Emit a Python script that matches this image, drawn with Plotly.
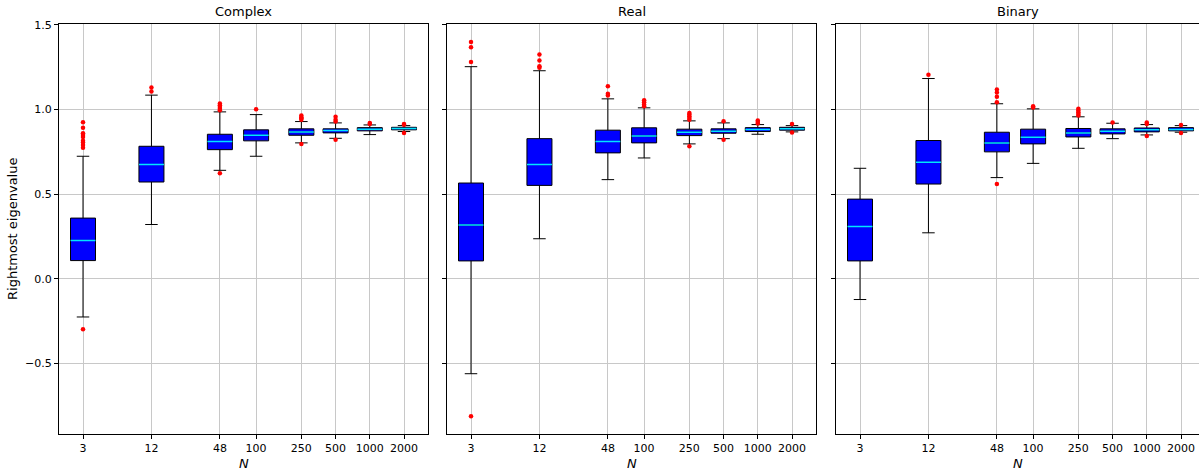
import math
import plotly.graph_objects as go

# Matrix sizes and panel names
sizes = [3, 12, 48, 100, 250, 500, 1000, 2000]
panels = ["Complex", "Real", "Binary"]

# Box statistics per ensemble (one entry per matrix size)
complex_low = [-0.225, 0.321, 0.641, 0.724, 0.803, 0.830, 0.852, 0.870]
complex_q1 = [0.108, 0.572, 0.763, 0.815, 0.848, 0.862, 0.874, 0.880]
complex_med = [0.227, 0.675, 0.811, 0.848, 0.868, 0.876, 0.884, 0.888]
complex_q3 = [0.359, 0.783, 0.854, 0.880, 0.886, 0.886, 0.893, 0.895]
complex_high = [0.724, 1.085, 0.986, 0.970, 0.929, 0.921, 0.909, 0.905]
complex_out = [
    [0.925, 0.893, 0.860, 0.850, 0.838, 0.815, 0.805, 0.790, 0.775, -0.298],
    [1.130, 1.107],
    [1.035, 1.025, 1.015, 1.005, 0.995, 0.623],
    [1.002],
    [0.965, 0.955, 0.948, 0.940, 0.797],
    [0.957, 0.940, 0.930, 0.822],
    [0.921, 0.914],
    [0.915, 0.910, 0.862],
]

real_low = [-0.560, 0.237, 0.586, 0.714, 0.797, 0.828, 0.854, 0.868]
real_q1 = [0.106, 0.552, 0.744, 0.803, 0.846, 0.860, 0.870, 0.878]
real_med = [0.318, 0.675, 0.811, 0.844, 0.866, 0.872, 0.882, 0.886]
real_q3 = [0.566, 0.828, 0.878, 0.892, 0.884, 0.886, 0.893, 0.895]
real_high = [1.253, 1.229, 1.063, 1.010, 0.933, 0.921, 0.911, 0.905]
real_out = [
    [1.398, 1.367, 1.280, -0.811],
    [1.325, 1.290, 1.256, 1.247],
    [1.138, 1.093, 1.083],
    [1.055, 1.043, 1.030, 1.020],
    [0.980, 0.970, 0.960, 0.950, 0.940, 0.783],
    [0.931, 0.822],
    [0.935, 0.926, 0.918],
    [0.915, 0.864],
]

binary_low = [-0.122, 0.272, 0.598, 0.682, 0.771, 0.828, 0.850, 0.866]
binary_q1 = [0.106, 0.560, 0.750, 0.797, 0.838, 0.856, 0.868, 0.874]
binary_med = [0.309, 0.688, 0.803, 0.836, 0.862, 0.872, 0.880, 0.882]
binary_q3 = [0.471, 0.817, 0.866, 0.884, 0.888, 0.886, 0.891, 0.893]
binary_high = [0.653, 1.183, 1.034, 1.004, 0.957, 0.919, 0.911, 0.905]
binary_out = [
    [],
    [1.205],
    [1.118, 1.100, 1.075, 1.043, 0.560],
    [1.020, 1.012],
    [1.004, 0.994, 0.984, 0.974, 0.965],
    [0.923],
    [0.923, 0.915, 0.844],
    [0.909, 0.862],
]

stats = [
    (complex_low, complex_q1, complex_med, complex_q3, complex_high, complex_out),
    (real_low, real_q1, real_med, real_q3, real_high, real_out),
    (binary_low, binary_q1, binary_med, binary_q3, binary_high, binary_out),
]

FONT = "DejaVu Sans"
W, H = 1199, 472
ML, MR, MT, MB = 59, 0, 24, 38
plot_w = W - ML - MR
# pixel extents of each panel
px_panels = [(59, 428), (447, 816), (836, 1199)]
px_per_decade = 369 / (3.512 - 0.266)
box_w = 0.22  # in decades

# boxes are positioned on a log10 scale of N
pos = [math.log10(n) for n in sizes]

fig = go.Figure()
layout = {}
annotations = []
for i, (name, (lo, q1, med, q3, hi, out)) in enumerate(zip(panels, stats)):
    xa = "x" if i == 0 else f"x{i + 1}"
    ya = "y" if i == 0 else f"y{i + 1}"
    fig.add_trace(go.Box(
        x=pos, q1=q1, median=med, q3=q3, lowerfence=lo, upperfence=hi,
        width=box_w, whiskerwidth=0.5, boxpoints=False,
        fillcolor="#0000ff", line=dict(color="black", width=1),
        xaxis=xa, yaxis=ya, showlegend=False, hoverinfo="skip",
    ))
    # median line drawn as a degenerate box in cyan
    fig.add_trace(go.Box(
        x=pos, q1=med, median=med, q3=med, lowerfence=med, upperfence=med,
        width=box_w, whiskerwidth=0, boxpoints=False,
        fillcolor="rgba(0,0,0,0)", line=dict(color="#00e5ff", width=1.5),
        xaxis=xa, yaxis=ya, showlegend=False, hoverinfo="skip",
    ))
    ox, oy = [], []
    for p, vals in zip(pos, out):
        for v in vals:
            ox.append(p)
            oy.append(v)
    fig.add_trace(go.Scatter(
        x=ox, y=oy, mode="markers",
        marker=dict(color="red", size=4.5, line=dict(width=0)),
        xaxis=xa, yaxis=ya, showlegend=False, hoverinfo="skip",
    ))

    x0, x1 = px_panels[i]
    d0 = (x0 - ML) / plot_w
    d1 = (x1 - ML) / plot_w
    rmin = 0.266
    rmax = rmin + (x1 - x0) / px_per_decade
    layout["xaxis" if i == 0 else f"xaxis{i + 1}"] = dict(
        domain=[d0, d1], range=[rmin, rmax], anchor=ya,
        tickvals=pos, ticktext=[str(n) for n in sizes],
        showgrid=True, gridcolor="#c8c8c8", gridwidth=1,
        ticks="outside", ticklen=4, tickcolor="black",
        showline=True, linecolor="black", linewidth=1, mirror=True,
        zeroline=False, tickfont=dict(family=FONT, size=11, color="black"),
    )
    layout["yaxis" if i == 0 else f"yaxis{i + 1}"] = dict(
        domain=[0, 1], range=[-0.916, 1.505], anchor=xa,
        tickvals=[-0.5, 0.0, 0.5, 1.0, 1.5], tickformat=".1f",
        showticklabels=(i == 0),
        showgrid=True, gridcolor="#c8c8c8", gridwidth=1,
        ticks="outside", ticklen=4, tickcolor="black",
        showline=True, linecolor="black", linewidth=1, mirror=(i < 2),
        zeroline=False, tickfont=dict(family=FONT, size=11, color="black"),
    )
    cx = ((x0 + x1) / 2 - ML) / plot_w
    annotations.append(dict(
        text=name, x=cx, y=(434 - 12) / 410, xref="paper", yref="paper",
        xanchor="center", yanchor="middle", showarrow=False,
        font=dict(family=FONT, size=13, color="black"),
    ))
    annotations.append(dict(
        text="<i>N</i>", x=cx, y=(434 - 463) / 410, xref="paper", yref="paper",
        xanchor="center", yanchor="middle", showarrow=False,
        font=dict(family=FONT, size=13, color="black"),
    ))

annotations.append(dict(
    text="Rightmost eigenvalue", x=(12 - ML) / plot_w, y=0.5,
    xref="paper", yref="paper", xanchor="center", yanchor="middle",
    textangle=-90, showarrow=False,
    font=dict(family=FONT, size=13, color="black"),
))

fig.update_layout(
    width=W, height=H,
    margin=dict(l=ML, r=MR, t=MT, b=MB),
    paper_bgcolor="white", plot_bgcolor="white",
    boxmode="overlay", annotations=annotations,
    **layout,
)

fig.write_html("out.html")
